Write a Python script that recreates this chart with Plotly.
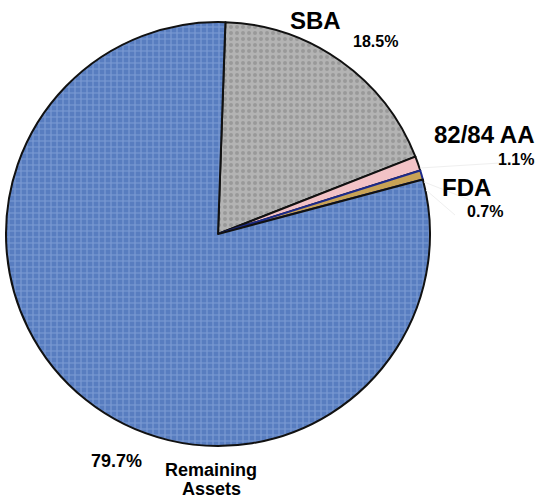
import plotly.graph_objects as go

labels = ["SBA", "82/84 AA", "FDA", "Remaining Assets"]
values = [18.5, 1.1, 0.7, 79.7]
pct_text = ["18.5%", "1.1%", "0.7%", "79.7%"]
colors = ["#b3b3b3", "#f2c2c6", "#c8a356", "#587dc0"]
pattern_fg = ["#808080", "#f2c2c6", "#b08a3c", "#9fb9e6"]
pattern_shape = [".", "", "", "+"]
line_colors = ["#111111", "#111111", "#1c2a8c", "#111111"]

W, H = 542, 499
fig = go.Figure(go.Pie(
    labels=labels, values=values, sort=False, direction="clockwise", rotation=2,
    marker=dict(colors=colors, line=dict(color=line_colors, width=2),
                pattern=dict(shape=pattern_shape, fgcolor=pattern_fg, fillmode="overlay",
                             size=6, solidity=0.35)),
    textinfo="none", hoverinfo="label+percent", showlegend=False,
    domain=dict(x=[6 / W, 430 / W], y=[1 - 446 / H, 1 - 22 / H]),
))

font = "Liberation Sans, Arial, sans-serif"
def ann(text, x, y, size, anchor="left"):
    fig.add_annotation(text="<b>" + text + "</b>", x=x / W, y=1 - y / H, xref="paper", yref="paper",
                       showarrow=False, xanchor=anchor, yanchor="middle",
                       font=dict(family=font, size=size, color="black"))

ann(labels[0], 288, 20, 24)
ann(pct_text[0], 351, 42, 16)
ann("82/84 AA", 432, 134, 24)
ann(pct_text[1], 496, 159, 16)
ann(labels[2], 440, 187, 24)
ann(pct_text[2], 465, 211, 16)
ann(pct_text[3], 89, 461, 18)
ann("Remaining", 211, 470, 18, "center")
ann("Assets", 211, 489, 18, "center")

# faint leader lines
for (x0, y0, x1, y1) in [(420, 168, 500, 163), (424, 182, 470, 200), (426, 190, 455, 215)]:
    fig.add_shape(type="line", x0=x0 / W, y0=1 - y0 / H, x1=x1 / W, y1=1 - y1 / H,
                  xref="paper", yref="paper", line=dict(color="#efefef", width=1))

fig.update_layout(width=W, height=H, margin=dict(l=0, r=0, t=0, b=0),
                  paper_bgcolor="white", plot_bgcolor="white")
fig.write_html("out.html", config={"displayModeBar": False},
               post_script="document.body.style.margin='0';")
